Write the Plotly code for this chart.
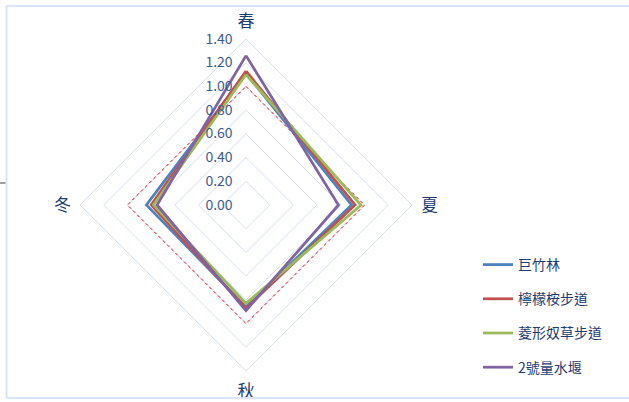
import plotly.graph_objects as go

# Seasonal index per site
seasons = ["春", "夏", "秋", "冬"]
site_names = ["巨竹林", "檸檬桉步道", "菱形奴草步道", "2號量水堰"]
giant_bamboo = [1.11, 0.89, 0.86, 0.84]
lemon_eucalyptus_trail = [1.13, 0.92, 0.87, 0.80]
balanophora_trail = [1.10, 0.97, 0.83, 0.78]
weir_no2 = [1.26, 0.78, 0.89, 0.75]
baseline = [1.0, 1.0, 1.0, 1.0]
radial_ticks = [0.0, 0.2, 0.4, 0.6, 0.8, 1.0, 1.2, 1.4]

series = [giant_bamboo, lemon_eucalyptus_trail, balanophora_trail, weir_no2]
colors = ["#4F81BD", "#C0504D", "#9BBB59", "#8064A2"]

W, H = 629, 402
cx, cy, R = 246, 205, 166


def closed(vals):
    return list(vals) + [vals[0]]


theta = closed(seasons)

fig = go.Figure()

# 1.0 reference ring
fig.add_trace(go.Scatterpolar(
    r=closed(baseline), theta=theta, mode="lines",
    line=dict(color="#FF0000", width=1, dash="dot"),
    showlegend=False, hoverinfo="skip",
))

for i, (name, vals, col) in enumerate(zip(site_names, series, colors)):
    fig.add_trace(go.Scatterpolar(
        r=closed(vals), theta=theta, mode="lines", name=name,
        legendgroup=f"g{i}",
        line=dict(color=col, width=2.75),
    ))

grid_col = "#D3DFF2"
fig.update_layout(
    width=W, height=H,
    margin=dict(l=0, r=0, t=0, b=0),
    paper_bgcolor="white",
    plot_bgcolor="white",
    font=dict(family="Noto Sans CJK TC", color="#1F3D6E"),
    polar=dict(
        domain=dict(x=[(cx - R) / W, (cx + R) / W],
                    y=[(H - cy - R) / H, (H - cy + R) / H]),
        gridshape="linear",
        bgcolor="white",
        angularaxis=dict(
            rotation=90, direction="clockwise",
            showgrid=False, showline=True, linecolor=grid_col, linewidth=1,
            ticks="outside", ticklen=5, tickcolor="rgba(0,0,0,0)",
            tickfont=dict(size=17, color="#1F3D6E"),
        ),
        radialaxis=dict(
            range=[0, 1.4], tickvals=radial_ticks,
            ticktext=[f"{v:.2f}" for v in radial_ticks],
            angle=90, side="counterclockwise", tickangle=90,
            showline=False, ticks="outside", ticklen=8,
            tickcolor="rgba(0,0,0,0)",
            gridcolor=grid_col, gridwidth=1,
            tickfont=dict(size=14, color="#3E5C8A"),
        ),
    ),
    legend=dict(
        x=478 / W, y=(H - 249) / H, xanchor="left", yanchor="top",
        font=dict(size=14, color="#1F3D6E"),
        tracegroupgap=13, itemwidth=30,
        bgcolor="rgba(0,0,0,0)",
    ),
    shapes=[
        # chart frame (left, top, bottom edges)
        dict(type="line", xref="paper", yref="paper",
             x0=6.5 / W, x1=1, y0=1 - 6 / H, y1=1 - 6 / H,
             line=dict(color="#D9E4F5", width=2)),
        dict(type="line", xref="paper", yref="paper",
             x0=6.5 / W, x1=6.5 / W, y0=1 - 6 / H, y1=1 - 398 / H,
             line=dict(color="#D9E4F5", width=2)),
        dict(type="line", xref="paper", yref="paper",
             x0=6.5 / W, x1=1, y0=1 - 398 / H, y1=1 - 398 / H,
             line=dict(color="#D9E4F5", width=2)),
        dict(type="line", xref="paper", yref="paper",
             x0=0, x1=5.5 / W, y0=1 - 183 / H, y1=1 - 183 / H,
             line=dict(color="#A0A0A0", width=2)),
    ],
)

fig.write_html("out.html")
